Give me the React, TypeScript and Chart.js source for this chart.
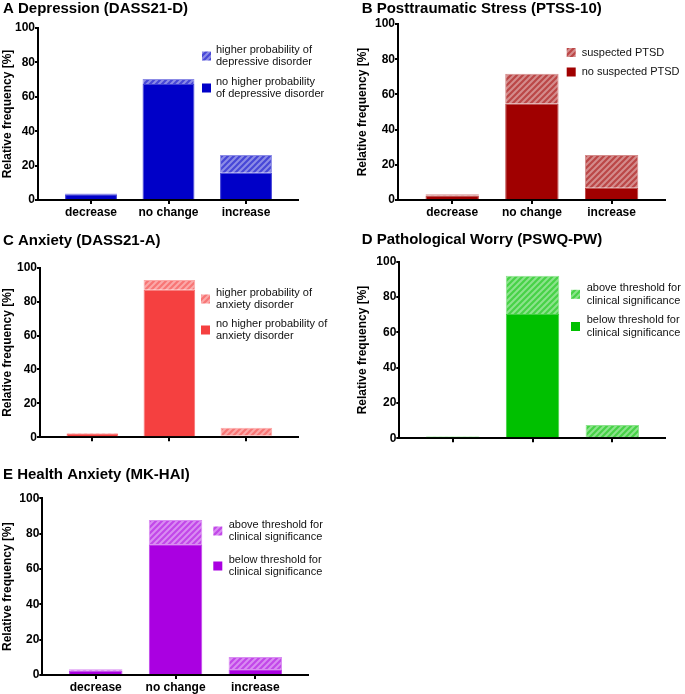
import React, { useEffect, useRef } from "react";
import { Chart, registerables } from "chart.js";
Chart.register(...registerables);

const categories = ["decrease", "no change", "increase"];
const yTicks = [0, 20, 40, 60, 80, 100];
const yAxisTitle = "Relative frequency [%]";

// A Depression
const depressionLow = [3.3, 67.4, 15.9];
const depressionHigh = [0.5, 2.9, 10.3];
// B PTSS
const ptsdLow = [2.6, 54.9, 7.0];
const ptsdHigh = [0.6, 16.9, 18.6];
// C Anxiety
const anxietyLow = [2.0, 87.0, 1.0];
const anxietyHigh = [0.4, 5.8, 4.7];
// D Worry
const worryLow = [0.9, 70.4, 0];
const worryHigh = [0.2, 21.6, 7.5];
// E Health anxiety
const healthLow = [2.4, 74.0, 3.2];
const healthHigh = [0.8, 13.7, 7.0];

const FONT = "'Liberation Sans', Arial, Helvetica, sans-serif";

type RGB = [number, number, number];
const mix = (c: RGB, t: number) =>
  `rgb(${c.map((v) => Math.round(v * (1 - t) + 255 * t)).join(",")})`;

function hatch(base: RGB) {
  const S = 6;
  const c = document.createElement("canvas");
  c.width = S;
  c.height = S;
  const x = c.getContext("2d")!;
  x.fillStyle = mix(base, 0.55);
  x.fillRect(0, 0, S, S);
  x.strokeStyle = mix(base, 0.28);
  x.lineWidth = 2.2;
  x.beginPath();
  x.moveTo(-2, S + 2);
  x.lineTo(S + 2, -2);
  x.moveTo(-2, 2);
  x.lineTo(2, -2);
  x.moveTo(S - 2, S + 2);
  x.lineTo(S + 2, S - 2);
  x.stroke();
  return x.createPattern(c, "repeat")!;
}

interface Panel {
  title: string;
  low: number[];
  high: number[];
  lowLabel: string[];
  highLabel: string[];
  color: RGB;
  left: number;
  top: number;
  w: number;
  h: number;
  yWidth: number;
  xHeight: number;
  padTop: number;
  padRight: number;
  xMin: number;
  xMax: number;
  yTitlePad: number;
  titleX: number;
  titleY: number;
  legBoxX: number;
  legTextX: number;
  legY: [number, number];
  legLH: number;
  showX: boolean;
}

const panels: Panel[] = [
  {
    title: "A Depression (DASS21-D)",
    low: depressionLow,
    high: depressionHigh,
    highLabel: ["higher probability of", "depressive disorder"],
    lowLabel: ["no higher probability", "of depressive disorder"],
    color: [0, 0, 200],
    left: 0, top: 0, w: 340, h: 225,
    yWidth: 38, xHeight: 25, padTop: 28, padRight: 42,
    xMin: -0.684, xMax: 2.671, yTitlePad: 0.8,
    titleX: 3, titleY: 9,
    legBoxX: 202, legTextX: 216, legY: [56, 88], legLH: 11.5,
    showX: true,
  },
  {
    title: "B Posttraumatic Stress (PTSS-10)",
    low: ptsdLow,
    high: ptsdHigh,
    highLabel: ["suspected PTSD"],
    lowLabel: ["no suspected PTSD"],
    color: [160, 0, 0],
    left: 340, top: 0, w: 345, h: 225,
    yWidth: 58, xHeight: 25, padTop: 24, padRight: 20,
    xMin: -0.68, xMax: 2.67, yTitlePad: 15.8,
    titleX: 21.7, titleY: 9,
    legBoxX: 226.7, legTextX: 241.7, legY: [52.5, 72], legLH: 11.5,
    showX: true,
  },
  {
    title: "C Anxiety (DASS21-A)",
    low: anxietyLow,
    high: anxietyHigh,
    highLabel: ["higher probability of", "anxiety disorder"],
    lowLabel: ["no higher probability of", "anxiety disorder"],
    color: [245, 64, 64],
    left: 0, top: 225, w: 340, h: 230,
    yWidth: 40, xHeight: 17.7, padTop: 42.7, padRight: 42,
    xMin: -0.68, xMax: 2.67, yTitlePad: 0.3,
    titleX: 3, titleY: 16,
    legBoxX: 201, legTextX: 216, legY: [74, 105], legLH: 11.7,
    showX: false,
  },
  {
    title: "D Pathological Worry (PSWQ-PW)",
    low: worryLow,
    high: worryHigh,
    highLabel: ["above threshold for", "clinical significance"],
    lowLabel: ["below threshold for", "clinical significance"],
    color: [0, 192, 0],
    left: 340, top: 225, w: 345, h: 230,
    yWidth: 59.3, xHeight: 16.7, padTop: 36.7, padRight: 20,
    xMin: -0.67, xMax: 2.66, yTitlePad: 15.8,
    titleX: 21.7, titleY: 15,
    legBoxX: 231, legTextX: 246.7, legY: [69.3, 101.5], legLH: 12.5,
    showX: false,
  },
  {
    title: "E Health Anxiety (MK-HAI)",
    low: healthLow,
    high: healthHigh,
    highLabel: ["above threshold for", "clinical significance"],
    lowLabel: ["below threshold for", "clinical significance"],
    color: [170, 0, 225],
    left: 0, top: 455, w: 340, h: 239,
    yWidth: 42.3, xHeight: 19, padTop: 43.3, padRight: 32,
    xMin: -0.67, xMax: 2.66, yTitlePad: 0,
    titleX: 3, titleY: 19.5,
    legBoxX: 213.3, legTextX: 228.7, legY: [76, 111], legLH: 11.7,
    showX: true,
  },
];

function PanelChart({ p }: { p: Panel }) {
  const ref = useRef<HTMLCanvasElement>(null);
  useEffect(() => {
    const canvas = ref.current!;
    const pat = hatch(p.color);
    const solid = mix(p.color, 0);
    const deco = {
      id: "deco" + p.title[0],
      afterDraw(chart: any) {
        const ctx = chart.ctx as CanvasRenderingContext2D;
        ctx.save();
        ctx.fillStyle = "#000";
        ctx.textBaseline = "middle";
        ctx.textAlign = "left";
        ctx.font = `bold 15px ${FONT}`;
        ctx.fillText(p.title, p.titleX, p.titleY);
        const items = [
          { fill: pat as any, lines: p.highLabel },
          { fill: solid as any, lines: p.lowLabel },
        ];
        ctx.font = `11px ${FONT}`;
        items.forEach((it, k) => {
          const cy = p.legY[k];
          ctx.fillStyle = it.fill;
          ctx.fillRect(p.legBoxX, cy - 4.5, 9, 9);
          ctx.fillStyle = "#111";
          const n = it.lines.length;
          it.lines.forEach((ln, i) => {
            ctx.fillText(ln, p.legTextX, cy + (i - (n - 1) / 2) * p.legLH);
          });
        });
        ctx.restore();
      },
    };
    const tickFont = { family: FONT, size: 12, weight: "bold" as const };
    const chart = new Chart(canvas, {
      type: "bar",
      data: {
        datasets: [
          {
            label: p.lowLabel.join(" "),
            data: p.low.map((v, i) => ({ x: i, y: v })),
            backgroundColor: solid,
            borderColor: mix(p.color, 0.25),
            borderWidth: 1,
          },
          {
            label: p.highLabel.join(" "),
            data: p.high.map((v, i) => ({ x: i, y: v })),
            backgroundColor: pat as any,
            borderColor: mix(p.color, 0.55),
            borderWidth: 1,
          },
        ],
      },
      options: {
        animation: false,
        responsive: false,
        maintainAspectRatio: false,
        layout: { padding: { top: p.padTop, right: p.padRight, left: 0, bottom: 0 } },
        datasets: { bar: { barPercentage: 0.67, categoryPercentage: 1 } } as any,
        plugins: {
          legend: { display: false },
          tooltip: { enabled: false },
          title: { display: false },
        },
        scales: {
          x: {
            type: "linear",
            min: p.xMin,
            max: p.xMax,
            stacked: true,
            offset: false,
            afterBuildTicks: (s: any) => {
              s.ticks = categories.map((_, i) => ({ value: i }));
            },
            afterFit: (s: any) => {
              s.height = p.xHeight;
            },
            ticks: {
              display: p.showX,
              callback: (v: any) => categories[v as number] ?? "",
              font: tickFont,
              color: "#000",
              padding: 1,
              autoSkip: false,
              maxRotation: 0,
            },
            grid: {
              display: true,
              offset: false,
              drawOnChartArea: false,
              drawTicks: true,
              tickLength: 4,
              color: "#000",
              lineWidth: 2,
            },
            border: { display: true, color: "#000", width: 2 },
          },
          y: {
            min: 0,
            max: 100,
            stacked: true,
            afterBuildTicks: (s: any) => {
              s.ticks = yTicks.map((v) => ({ value: v }));
            },
            afterFit: (s: any) => {
              s.width = p.yWidth;
            },
            ticks: { font: tickFont, color: "#000", padding: 0 },
            grid: {
              display: true,
              drawOnChartArea: false,
              drawTicks: true,
              tickLength: 3,
              color: "#000",
              lineWidth: 2,
            },
            border: { display: true, color: "#000", width: 2 },
            title: {
              display: true,
              text: yAxisTitle,
              color: "#000",
              font: tickFont,
              padding: { top: p.yTitlePad, bottom: 0 },
            },
          },
        },
      },
      plugins: [deco],
    });
    return () => chart.destroy();
  }, [p]);
  return (
    <canvas
      ref={ref}
      width={p.w}
      height={p.h}
      style={{ position: "absolute", left: p.left, top: p.top, width: p.w, height: p.h }}
    />
  );
}

export default function App() {
  return (
    <div
      style={{
        position: "absolute",
        left: 0,
        top: 0,
        width: 685,
        height: 694,
        background: "#fff",
        overflow: "hidden",
      }}
    >
      {panels.map((p) => (
        <PanelChart key={p.title} p={p} />
      ))}
    </div>
  );
}
